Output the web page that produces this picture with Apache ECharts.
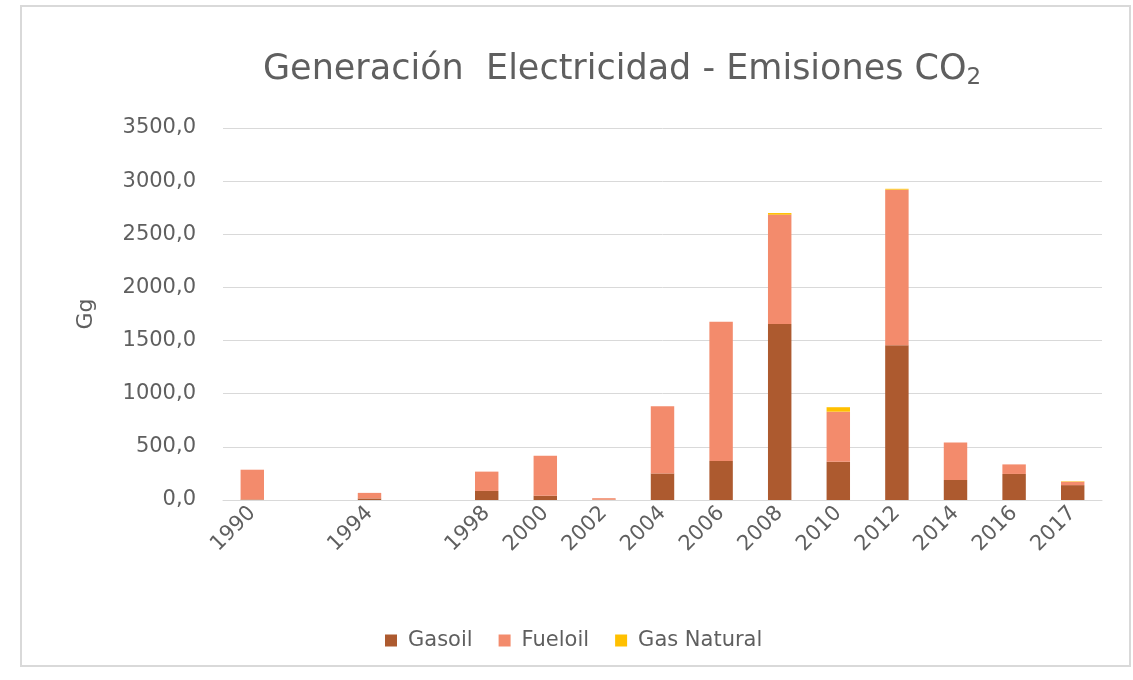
<!DOCTYPE html>
<html>
<head>
<meta charset="utf-8">
<script src="https://cdn.jsdelivr.net/npm/echarts@6/dist/echarts.min.js"></script>
<style>
  html, body { margin: 0; padding: 0; background: #fff; }
  #frame { position: absolute; left: 20px; top: 5px; width: 1111px; height: 662px; border: 2px solid #d9d9d9; box-sizing: border-box; }
  #main { position: absolute; left: 0; top: 0; width: 1133px; height: 680px; }
</style>
</head>
<body>
<div id="frame"></div>
<div id="main"></div>
<script>
// categorias (los huecos son años sin etiqueta)
var years = ['1990', '', '1994', '', '1998', '2000', '2002', '2004', '2006', '2008', '2010', '2012', '2014', '2016', '2017'];
var gasoil = [5, null, 15, null, 85, 40, 3, 250, 367, 1657, 361, 1455, 188, 245, 140];
var fueloil = [280, null, 52, null, 182, 376, 14, 632, 1309, 1028, 470, 1465, 352, 90, 32];
var gasNatural = [0, null, 0, null, 0, 0, 0, 0, 0, 15, 42, 8, 0, 0, 4];

var chart = echarts.init(document.getElementById('main'));

var font = 'DejaVu Sans';
var grey = '#5f5f5f';

var option = {
    animation: false,
    title: {
        text: 'Generación  Electricidad - Emisiones CO{sub|2}',
        left: 258,
        top: 44,
        textStyle: {
            fontFamily: font,
            fontSize: 35,
            fontWeight: 'normal',
            color: grey,
            rich: {
                sub: { fontFamily: font, fontSize: 23, color: grey, padding: [18, 0, 0, 0] }
            }
        }
    },
    legend: {
        top: 625,
        left: 380,
        itemWidth: 12,
        itemHeight: 12,
        itemGap: 26,
        icon: 'rect',
        textStyle: { fontFamily: font, fontSize: 21, color: grey, padding: [0, 0, 0, 6] },
        data: ['Gasoil', 'Fueloil', 'Gas Natural']
    },
    grid: {
        left: 223,
        right: 31,
        top: 128,
        bottom: 180
    },
    xAxis: {
        type: 'category',
        data: years,
        axisTick: { show: false },
        axisLine: { lineStyle: { color: '#d9d9d9' } },
        axisLabel: {
            rotate: 45,
            interval: 0,
            margin: 10,
            fontFamily: font,
            fontSize: 21,
            color: grey
        }
    },
    yAxis: {
        type: 'value',
        min: 0,
        max: 3500,
        interval: 500,
        name: 'Gg',
        nameLocation: 'middle',
        nameGap: 126,
        nameRotate: 90,
        nameTextStyle: { fontFamily: font, fontSize: 22, color: grey },
        axisLabel: {
            fontFamily: font,
            fontSize: 21,
            color: grey,
            margin: 27,
            formatter: function (v) {
                return v.toFixed(1).replace('.', ',');
            }
        },
        splitLine: { lineStyle: { color: '#d9d9d9', width: 1 } }
    },
    series: [
        {
            name: 'Gasoil',
            type: 'bar',
            stack: 'total',
            barWidth: '40%',
            data: gasoil,
            itemStyle: { color: '#ad5a2f' }
        },
        {
            name: 'Fueloil',
            type: 'bar',
            stack: 'total',
            data: fueloil,
            itemStyle: { color: '#f38b6c' }
        },
        {
            name: 'Gas Natural',
            type: 'bar',
            stack: 'total',
            data: gasNatural,
            itemStyle: { color: '#ffc000' }
        }
    ]
};

chart.setOption(option);
</script>
</body>
</html>
